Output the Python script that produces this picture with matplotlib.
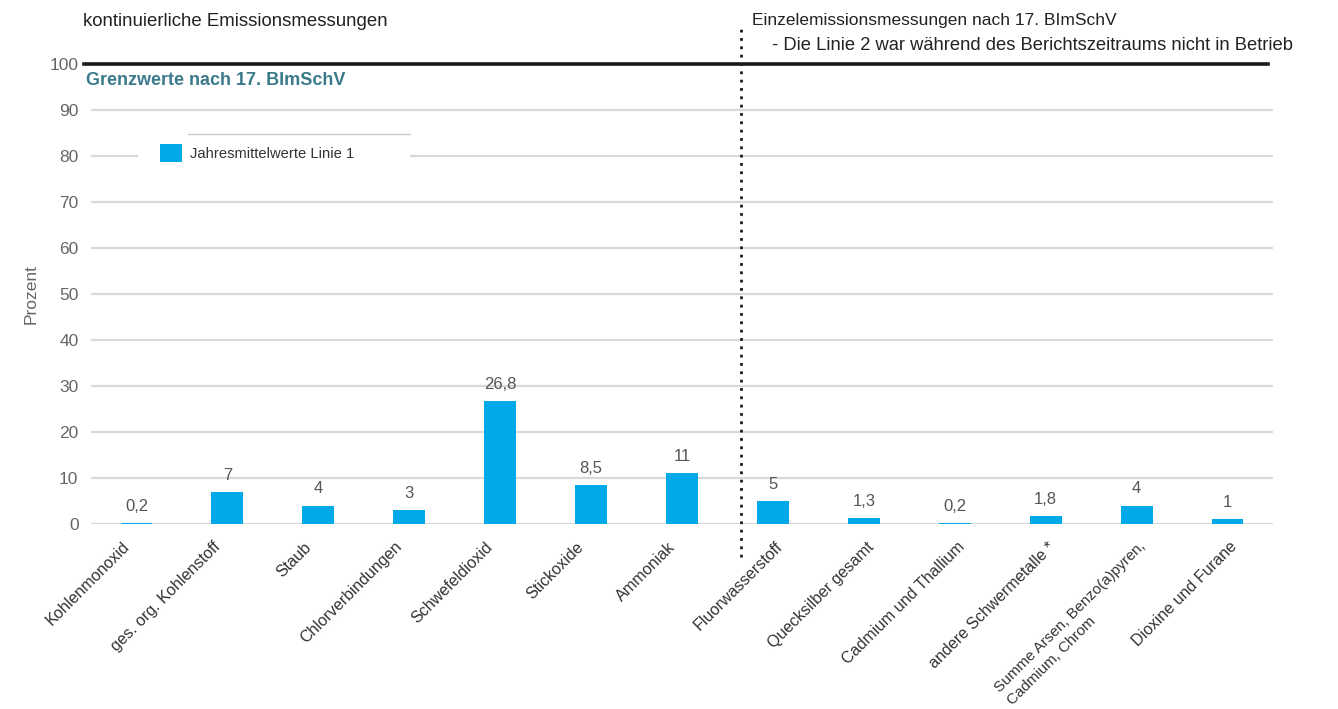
import numpy as np
import matplotlib
matplotlib.use('Agg')
import matplotlib.pyplot as plt
import matplotlib.transforms as mtransforms
from matplotlib.lines import Line2D
from matplotlib.patches import Rectangle

plt.rcParams['font.family'] = ['Liberation Sans', 'DejaVu Sans']

# data
categories = ['Kohlenmonoxid', 'ges. org. Kohlenstoff', 'Staub', 'Chlorverbindungen',
              'Schwefeldioxid', 'Stickoxide', 'Ammoniak', 'Fluorwasserstoff',
              'Quecksilber gesamt', 'Cadmium und Thallium', 'andere Schwermetalle *',
              'Summe Arsen, Benzo(a)pyren,\nCadmium, Chrom', 'Dioxine und Furane']
values = [0.2, 7, 4, 3, 26.8, 8.5, 11, 5, 1.3, 0.2, 1.8, 4, 1]
value_labels = ['0,2', '7', '4', '3', '26,8', '8,5', '11', '5', '1,3', '0,2', '1,8', '4', '1']
yticks = [0, 10, 20, 30, 40, 50, 60, 70, 80, 90, 100]
n_continuous = 7  # first 7 categories: kontinuierliche Messungen

bar_color = '#00aae8'
grid_color = '#d9d9d9'

fig = plt.figure(figsize=(13.38, 7.09), dpi=100)
ax = fig.add_axes([91 / 1338, 1 - 524 / 709, 1182 / 1338, 460 / 709])

x = np.arange(len(categories))
ax.bar(x, values, width=0.35, color=bar_color, label='Jahresmittelwerte Linie 1', zorder=3)

for xi, v, lab in zip(x, values, value_labels):
    ax.text(xi, v + 2.0, lab, ha='center', va='bottom', fontsize=12, color='#555555')

ax.set_xlim(-0.5, len(categories) - 0.5)
ax.set_ylim(0, 100)
ax.set_yticks(yticks)
ax.set_yticklabels([str(t) for t in yticks], fontsize=12.5, color='#666666')
ax.tick_params(axis='y', length=0, pad=9)
ax.tick_params(axis='x', length=0, pad=11)
ax.set_xticks(x)
ax.set_xticklabels(categories, rotation=45, ha='right', rotation_mode='anchor',
                   fontsize=11.6, color='#333333', linespacing=1.3)
for i, lab in enumerate(ax.get_xticklabels()):
    lab.set_multialignment('left')
    if '\n' in lab.get_text():
        lab.set_fontsize(10.9)
    dx = -15 if i < n_continuous else 2
    lab.set_transform(lab.get_transform() +
                      mtransforms.ScaledTranslation(dx / 100, 0, fig.dpi_scale_trans))

for s in ax.spines.values():
    s.set_visible(False)

# gridlines
for t in yticks[:-1]:
    ax.axhline(t, color=grid_color, linewidth=1.6, zorder=1)
ax.plot([-0.58, 12.45], [100, 100], color='#1a1a1a', linewidth=2.6, clip_on=False, zorder=4)

# separator between the two groups
ax.plot([6.65, 6.65], [-7.2, 107.5], color='#1a1a1a', linestyle=(0, (1, 2)), linewidth=2,
        clip_on=False, zorder=4)

ax.set_ylabel('Prozent', fontsize=12.5, color='#666666')
ax.yaxis.set_label_coords(-0.044, 0.5)

ax.text(-0.55, 96.5, 'Grenzwerte nach 17. BImSchV', fontsize=13, fontweight='bold',
        color='#3b7a8a', va='center', ha='left')

# legend with white background box and thin top rule
ax.add_patch(Rectangle((0.0398, 0.759), 0.230, 0.087, transform=ax.transAxes,
                       facecolor='white', edgecolor='none', zorder=2))
leg = ax.legend(loc='center left', bbox_to_anchor=(0.058, 0.806), frameon=False,
                fontsize=10.6, handlelength=1.55, handleheight=1.55, borderpad=0,
                handletextpad=0.5, borderaxespad=0)
leg.set_zorder(5)
for t in leg.get_texts():
    t.set_color('#333333')
ax.add_line(Line2D([0.082, 0.270], [0.848, 0.848], transform=ax.transAxes,
                   color='#cccccc', linewidth=1, zorder=6))

fig.text(83 / 1338, 1 - 21 / 709, 'kontinuierliche Emissionsmessungen', fontsize=13.4,
         color='#222222', va='center', ha='left')
fig.text(752 / 1338, 1 - 20 / 709, 'Einzelemissionsmessungen nach 17. BImSchV', fontsize=12.5,
         color='#222222', va='center', ha='left')
fig.text(772 / 1338, 1 - 45 / 709, '- Die Linie 2 war während des Berichtszeitraums nicht in Betrieb',
         fontsize=13.2, color='#222222', va='center', ha='left')

fig.savefig('out.png', dpi=100)
